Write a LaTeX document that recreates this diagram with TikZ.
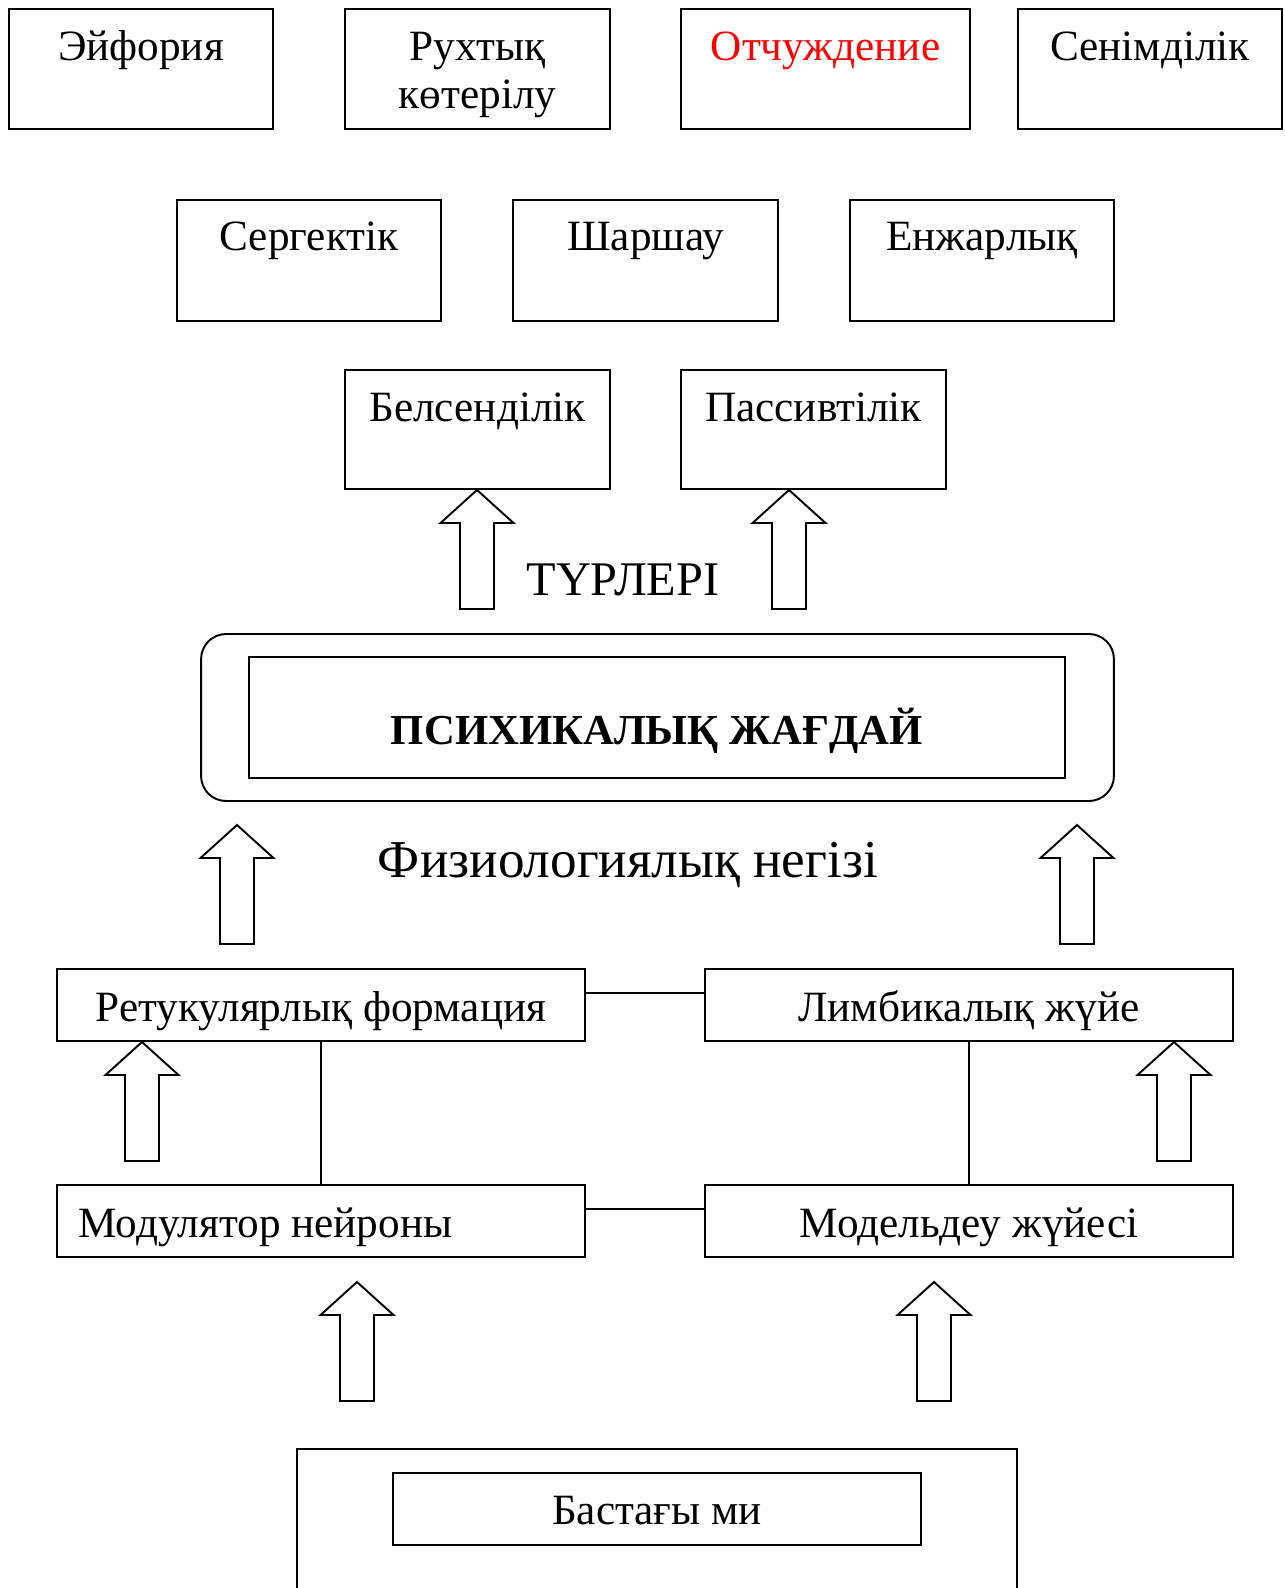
\documentclass[tikz,border=0pt]{standalone}
\usepackage{fontspec}
\setmainfont{Liberation Serif}
\usetikzlibrary{positioning}
\tikzset{
  box/.style={draw, line width=1.1pt, inner sep=0pt},
  lbl/.style={anchor=base, inner sep=0pt, font=\fontsize{24.6}{28}\selectfont},
  uparrow/.pic={
    \draw[line width=1.1pt, fill=white] (0,0) -- (-36.5,33) -- (-17,33) -- (-17,119)
      -- (17,119) -- (17,33) -- (36.5,33) -- cycle;
  }
}
\begin{document}
\begin{tikzpicture}[x=0.02cm, y=-0.02cm]
    \useasboundingbox (0,0) rectangle (1284,1588);
    % top row
    \node[box, minimum width=5.28cm, minimum height=2.4cm] (euph) at (141,69) {};
    \node[box, minimum width=5.3cm, minimum height=2.4cm] (rukh) at (477.5,69) {};
    \node[box, minimum width=5.78cm, minimum height=2.4cm] (otch) at (825.5,69) {};
    \node[box, minimum width=5.28cm, minimum height=2.4cm] (seni) at (1150,69) {};
    \node[lbl] at (141,61) {Эйфория};
    \node[lbl] at (477.5,61) {Рухтық};
    \node[lbl] at (477.5,109) {көтерілу};
    \node[lbl, text=red] at (825.5,61) {Отчуждение};
    \node[lbl] at (1150,61) {Сенімділік};
    % second row
    \node[box, minimum width=5.28cm, minimum height=2.42cm] (serg) at (309,260.5) {};
    \node[box, minimum width=5.3cm, minimum height=2.42cm] (shar) at (645.5,260.5) {};
    \node[box, minimum width=5.28cm, minimum height=2.42cm] (enzh) at (982,260.5) {};
    \node[lbl] at (309,251) {Сергектік};
    \node[lbl] at (645.5,251) {Шаршау};
    \node[lbl] at (982,251) {Енжарлық};
    % third row
    \node[box, minimum width=5.3cm, minimum height=2.38cm] (bels) at (477.5,429.5) {};
    \node[box, minimum width=5.3cm, minimum height=2.38cm] (pass) at (813.5,429.5) {};
    \node[lbl] at (477.5,421) {Белсенділік};
    \node[lbl] at (813.5,421) {Пассивтілік};
    \pic at (477,490) {uparrow};
    \pic at (789,490) {uparrow};
    \node[lbl, font=\fontsize{27.5}{32}\selectfont] (turl) at (623,595) {ТҮРЛЕРІ};
    % main state
    \node[box, rounded corners=0.5cm, minimum width=18.26cm, minimum height=3.34cm] (outer) at (657.5,717.5) {};
    \node[box, minimum width=16.32cm, minimum height=2.42cm] (psych) at (657,717.5) {};
    \node[lbl, font=\fontsize{24.3}{28}\selectfont\bfseries] at (657,744) {ПСИХИКАЛЫҚ ЖАҒДАЙ};
    \pic at (237,825) {uparrow};
    \pic at (1077,825) {uparrow};
    \node[lbl, font=\fontsize{30.3}{34}\selectfont] (phys) at (628,877) {Физиологиялық негізі};
    % physiological basis
    \node[box, minimum width=10.56cm, minimum height=1.44cm] (ret) at (321,1005) {};
    \node[box, minimum width=10.56cm, minimum height=1.44cm] (lim) at (969,1005) {};
    \node[lbl] at (321,1021) {Ретукулярлық формация};
    \node[lbl] at (969,1021) {Лимбикалық жүйе};
    \node[box, minimum width=10.56cm, minimum height=1.44cm] (mod) at (321,1221) {};
    \node[box, minimum width=10.56cm, minimum height=1.44cm] (modl) at (969,1221) {};
    \node[lbl, anchor=base west] at (78,1237) {Модулятор нейроны};
    \node[lbl] at (969,1237) {Модельдеу жүйесі};
    \draw[line width=1.1pt] ([yshift=0.24cm]ret.east) -- ([yshift=0.24cm]lim.west);
    \draw[line width=1.1pt] ([yshift=0.24cm]mod.east) -- ([yshift=0.24cm]modl.west);
    \draw[line width=1.1pt] (ret.south) -- (mod.north);
    \draw[line width=1.1pt] (lim.south) -- (modl.north);
    \pic at (142,1042) {uparrow};
    \pic at (1174,1042) {uparrow};
    \pic at (357,1282) {uparrow};
    \pic at (934,1282) {uparrow};
    % brain
    \draw[line width=1.1pt] (297,1600) -- (297,1449) -- (1017,1449) -- (1017,1600);
    \node[box, minimum width=10.56cm, minimum height=1.44cm] (brain) at (657,1509) {};
    \node[lbl] at (657,1524) {Бастағы ми};
\end{tikzpicture}
\end{document}
